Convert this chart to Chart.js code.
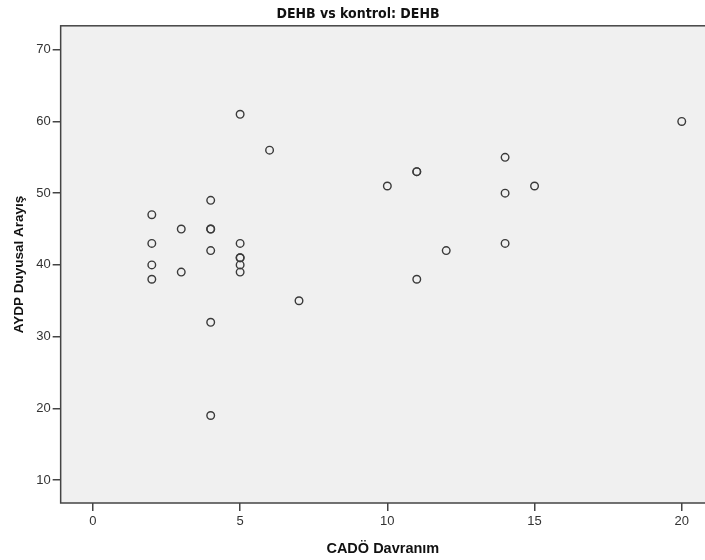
<!DOCTYPE html>
<html>
<head>
<meta charset="utf-8">
<script src="https://cdn.jsdelivr.net/npm/chart.js@4"></script>
<style>
  html, body { margin: 0; padding: 0; background: #fff; }
  #wrap { width: 705px; height: 560px; }
</style>
</head>
<body>
<div id="wrap"><canvas id="myChart" width="705" height="560"></canvas></div>
<script>
// Data
const cadoDavranim = [2, 2, 2, 2, 3, 3, 4, 4, 4, 4, 4, 4, 5, 5, 5, 5, 5, 5, 6, 7, 10, 11, 11, 11, 12, 14, 14, 14, 15, 20];
const aydpDuyusal  = [47, 43, 40, 38, 45, 39, 49, 45, 45, 42, 32, 19, 61, 43, 41, 41, 40, 39, 56, 35, 51, 53, 53, 38, 42, 55, 50, 43, 51, 60];
const xTicks = [0, 5, 10, 15, 20];
const yTicks = [10, 20, 30, 40, 50, 60, 70];

const points = cadoDavranim.map((x, i) => ({ x: x, y: aydpDuyusal[i] }));

const baseFont = "'Liberation Sans', Arial, sans-serif";

// Grey plot box with a dark frame
const plotBox = {
    id: "plotBox",
    beforeDatasetsDraw(chart) {
        const { ctx, chartArea: a } = chart;
        ctx.save();
        ctx.fillStyle = "#f0f0f0";
        ctx.fillRect(a.left, a.top, a.right - a.left, a.bottom - a.top);
        ctx.strokeStyle = "#444";
        ctx.lineWidth = 1.5;
        ctx.strokeRect(a.left, a.top, a.right - a.left + 2, a.bottom - a.top);
        ctx.restore();
    },
};

const ctx = document.querySelector("#myChart").getContext("2d");
const scatter = new Chart(ctx, {
    type: "scatter",
    data: {
        datasets: [{
            data: points,
            backgroundColor: "rgba(0,0,0,0)",
            borderColor: "#3a3a3a",
            borderWidth: 1.4,
            pointRadius: 3.8,
        }],
    },
    options: {
        responsive: false,
        animation: false,
        layout: { autoPadding: false, padding: { left: 11, right: 0, top: 0, bottom: 2 } },
        scales: {
            x: {
                min: -1.096,
                max: 20.79,
                afterBuildTicks: (axis) => { axis.ticks = xTicks.map(v => ({ value: v })); },
                grid: { drawOnChartArea: false, drawTicks: true, tickLength: 8, color: "#444", lineWidth: 1.5 },
                border: { display: false },
                ticks: { color: "#333", font: { family: baseFont, size: 13 }, padding: 3 },
                title: {
                    display: true,
                    text: "CADÖ Davranım",
                    color: "#111",
                    font: { family: baseFont, size: 14.5, weight: "bold" },
                    padding: { top: 8, bottom: 0 },
                },
            },
            y: {
                min: 6.80,
                max: 73.34,
                afterBuildTicks: (axis) => { axis.ticks = yTicks.map(v => ({ value: v })); },
                grid: { drawOnChartArea: false, drawTicks: true, tickLength: 8, color: "#444", lineWidth: 1.5 },
                border: { display: false },
                ticks: { color: "#333", font: { family: baseFont, size: 13 }, padding: 2 },
                title: {
                    display: true,
                    text: "AYDP Duyusal Arayış",
                    color: "#111",
                    font: { family: baseFont, size: 13.5, weight: "bold" },
                    padding: { top: 0, bottom: 7 },
                },
            },
        },
        plugins: {
            legend: { display: false },
            tooltip: { enabled: false },
            title: {
                display: true,
                text: "DEHB vs kontrol: DEHB",
                color: "#111",
                font: { family: "'Liberation Sans Narrow', 'DejaVu Sans Condensed', " + baseFont, size: 14, weight: "bold" },
                padding: { top: 6, bottom: 3 },
            },
        },
    },
    plugins: [plotBox],
});
</script>
</body>
</html>
